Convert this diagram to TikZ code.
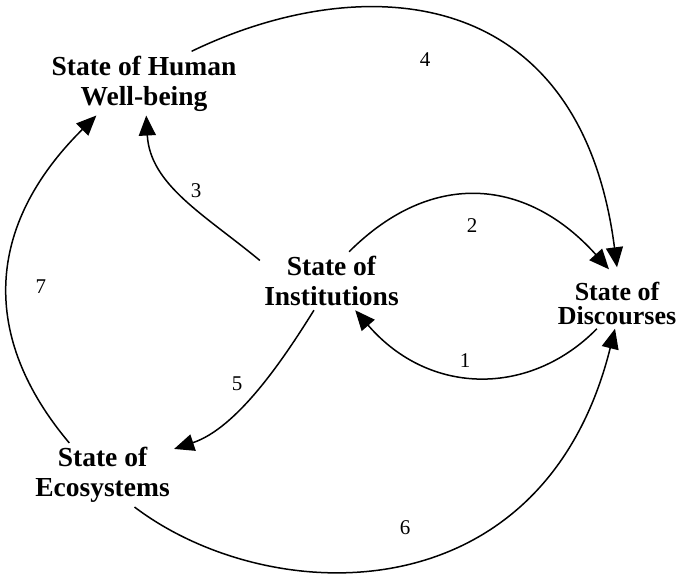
\documentclass[tikz,border=0pt]{standalone}
\usepackage{fontspec}
\setmainfont{Liberation Serif}
\usetikzlibrary{arrows.meta}

\begin{document}
\begin{tikzpicture}[x=0.5pt,y=-0.5pt,
	state/.style={align=center,inner sep=2pt,font=\bfseries\fontsize{13.75}{15}\selectfont},
	flow/.style={line width=0.75pt,-{Triangle[length=10pt,width=8.5pt]}},
	num/.style={inner sep=0pt,font=\fontsize{10.5}{12}\selectfont}]
	\useasboundingbox (0,0) rectangle (684,573);
	\node [state] (hum) at (144,83.4) {State of Human\\Well-being};
	\node [state] (ins) at (331.5,281) {State of\\Institutions};
	\node [state] (eco) at (102.5,475) {State of\\Ecosystems};
	\node [state,font=\bfseries\fontsize{13}{15}\selectfont] (dis) at (617,303) {State of\\[-3pt]Discourses};
	\draw [flow] (dis.-128) .. controls (531,396) and (430,397) .. (ins.-51);
	\draw (465,361) node [num] (n1) {1};
	\draw [flow] (ins.59) .. controls (434,167) and (529,180) .. ([xshift=-4pt,yshift=4pt]dis.north);
	\draw (472,226) node [num] (n2) {2};
	\draw [flow] (ins.164) .. controls (205,215) and (150,185) .. (hum.-86);
	\draw (196,191) node [num] (n3) {3};
	\draw [flow] (hum.34) .. controls (360,-30) and (580,-20) .. ([yshift=5pt]dis.north);
	\draw (425,60) node [num] (n4) {4};
	\draw [flow] (ins.-121) .. controls (283,360) and (237,428) .. (eco.20);
	\draw (237,384) node [num] (n5) {5};
	\draw [flow] (eco.-45) .. controls (269,609) and (543,618) .. ([xshift=-1pt]dis.south);
	\draw (405,528) node [num] (n6) {6};
	\draw [flow] (eco.136) .. controls (-20,337) and (-15,226) .. (hum.-146);
	\draw (41,287) node [num] (n7) {7};
\end{tikzpicture}
\end{document}
